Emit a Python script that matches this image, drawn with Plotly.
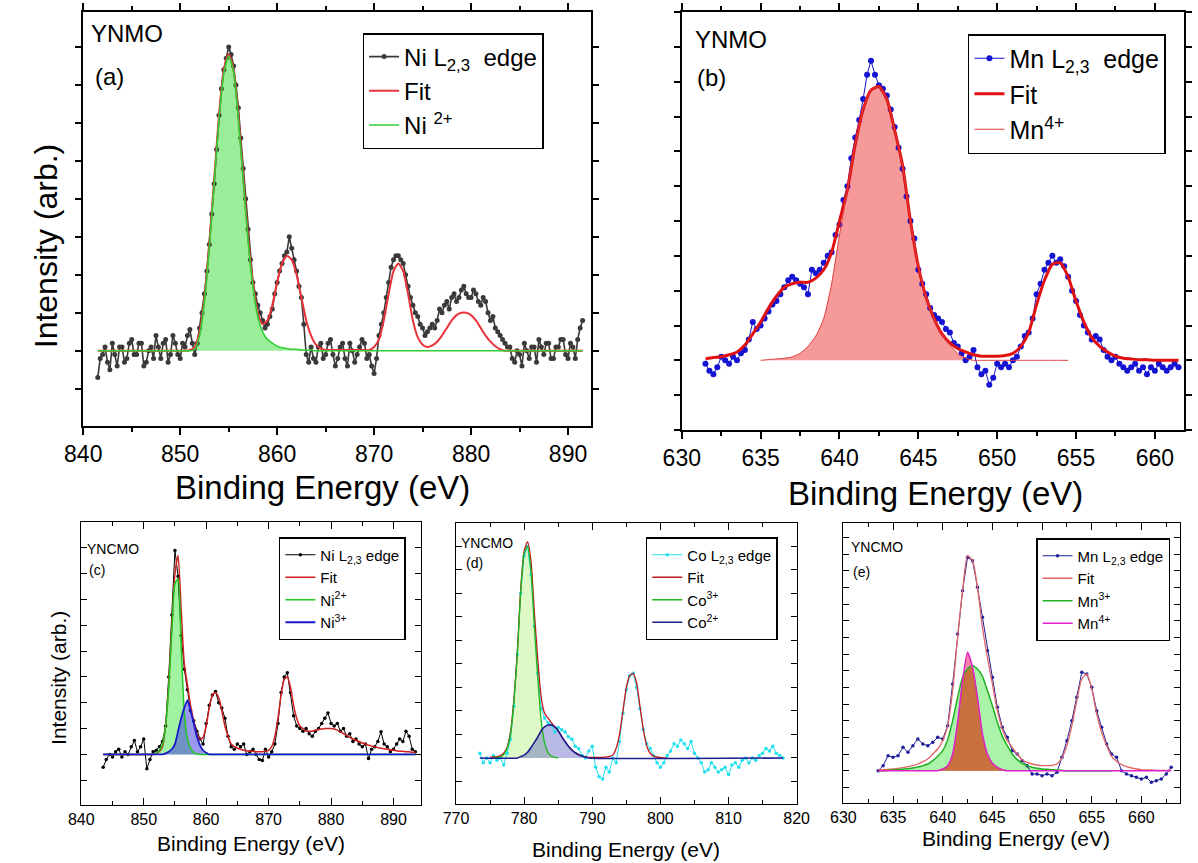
import numpy as np
import plotly.graph_objects as go

FONT = "Arial, 'Liberation Sans', sans-serif"
W, H = 1198, 863

# ---------------- Panel (a): YNMO, Ni L2,3 edge ----------------
A_BE = [841.50, 841.75, 842.00, 842.25, 842.50, 842.75, 843.00, 843.25, 843.50, 843.75,
        844.00, 844.25, 844.50, 844.75, 845.00, 845.25, 845.50, 845.75, 846.00, 846.25,
        846.50, 846.75, 847.00, 847.25, 847.50, 847.75, 848.00, 848.25, 848.50, 848.75,
        849.00, 849.25, 849.50, 849.75, 850.00, 850.25, 850.50, 850.75, 851.00, 851.25,
        851.50, 851.75, 852.00, 852.25, 852.50, 852.75, 853.00, 853.25, 853.50, 853.75,
        854.00, 854.25, 854.50, 854.75, 855.00, 855.25, 855.50, 855.75, 856.00, 856.25,
        856.50, 856.75, 857.00, 857.25, 857.50, 857.75, 858.00, 858.25, 858.50, 858.75,
        859.00, 859.25, 859.50, 859.75, 860.00, 860.25, 860.50, 860.75, 861.00, 861.25,
        861.50, 861.75, 862.00, 862.25, 862.50, 862.75, 863.00, 863.25, 863.50, 863.75,
        864.00, 864.25, 864.50, 864.75, 865.00, 865.25, 865.50, 865.75, 866.00, 866.25,
        866.50, 866.75, 867.00, 867.25, 867.50, 867.75, 868.00, 868.25, 868.50, 868.75,
        869.00, 869.25, 869.50, 869.75, 870.00, 870.25, 870.50, 870.75, 871.00, 871.25,
        871.50, 871.75, 872.00, 872.25, 872.50, 872.75, 873.00, 873.25, 873.50, 873.75,
        874.00, 874.25, 874.50, 874.75, 875.00, 875.25, 875.50, 875.75, 876.00, 876.25,
        876.50, 876.75, 877.00, 877.25, 877.50, 877.75, 878.00, 878.25, 878.50, 878.75,
        879.00, 879.25, 879.50, 879.75, 880.00, 880.25, 880.50, 880.75, 881.00, 881.25,
        881.50, 881.75, 882.00, 882.25, 882.50, 882.75, 883.00, 883.25, 883.50, 883.75,
        884.00, 884.25, 884.50, 884.75, 885.00, 885.25, 885.50, 885.75, 886.00, 886.25,
        886.50, 886.75, 887.00, 887.25, 887.50, 887.75, 888.00, 888.25, 888.50, 888.75,
        889.00, 889.25, 889.50, 889.75, 890.00, 890.25, 890.50, 890.75, 891.00, 891.25,
        891.50]
A_DATA = [-0.35, -0.10, -0.05, 0.05, -0.15, -0.25, 0.10, -0.05, -0.20, 0.05,
          0.05, -0.15, -0.10, 0.10, 0.15, -0.05, -0.05, 0.10, 0.10, -0.20,
          -0.15, 0.00, 0.05, -0.10, 0.20, 0.05, -0.10, 0.10, 0.15, -0.15,
          -0.05, 0.20, 0.10, -0.05, -0.10, 0.10, 0.05, 0.20, 0.28, 0.10,
          -0.05, 0.10, 0.30, 0.50, 0.75, 1.05, 1.40, 1.80, 2.20, 2.65,
          3.10, 3.45, 3.70, 3.85, 4.00, 3.90, 3.75, 3.50, 3.20, 2.80,
          2.40, 2.00, 1.60, 1.20, 0.90, 0.75, 0.60, 0.50, 0.40, 0.30,
          0.35, 0.45, 0.55, 0.75, 0.90, 1.05, 1.15, 1.25, 1.30, 1.50,
          1.35, 1.20, 1.05, 0.85, 0.70, 0.35, -0.05, -0.15, 0.05, -0.10,
          -0.15, 0.05, 0.10, -0.10, -0.05, 0.10, 0.15, -0.05, -0.20, -0.10,
          0.05, 0.10, -0.10, -0.20, 0.10, 0.00, -0.15, -0.05, 0.05, 0.15,
          0.10, -0.10, -0.05, -0.20, -0.30, -0.10, 0.20, 0.35, 0.50, 0.70,
          0.90, 1.10, 1.20, 1.25, 1.25, 1.20, 1.15, 1.00, 0.85, 0.70,
          0.60, 0.50, 0.45, 0.35, 0.30, 0.20, 0.25, 0.30, 0.35, 0.30,
          0.40, 0.55, 0.50, 0.60, 0.65, 0.55, 0.70, 0.75, 0.65, 0.70,
          0.80, 0.85, 0.75, 0.70, 0.70, 0.80, 0.75, 0.65, 0.60, 0.70,
          0.65, 0.50, 0.40, 0.45, 0.30, 0.25, 0.20, 0.15, 0.10, 0.05,
          0.05, -0.10, -0.15, 0.00, -0.05, -0.20, 0.10, 0.00, -0.10, 0.05,
          0.05, -0.15, 0.15, 0.05, -0.05, 0.10, 0.10, -0.10, -0.10, 0.05,
          0.05, 0.15, 0.15, -0.05, -0.10, 0.10, 0.05, -0.10, 0.15, 0.30,
          0.40]
A_FIT_BE = [841.5, 842.0, 842.5, 843.0, 843.5, 844.0, 844.5, 845.0, 845.5, 846.0,
            846.5, 847.0, 847.5, 848.0, 848.5, 849.0, 849.5, 850.0, 850.5, 851.0,
            851.5, 852.0, 852.5, 853.0, 853.5, 854.0, 854.5, 855.0, 855.5, 856.0,
            856.5, 857.0, 857.5, 858.0, 858.5, 859.0, 859.5, 860.0, 860.5, 861.0,
            861.5, 862.0, 862.5, 863.0, 863.5, 864.0, 864.5, 865.0, 865.5, 866.0,
            866.5, 867.0, 867.5, 868.0, 868.5, 869.0, 869.5, 870.0, 870.5, 871.0,
            871.5, 872.0, 872.5, 873.0, 873.5, 874.0, 874.5, 875.0, 875.5, 876.0,
            876.5, 877.0, 877.5, 878.0, 878.5, 879.0, 879.5, 880.0, 880.5, 881.0,
            881.5, 882.0, 882.5, 883.0, 883.5, 884.0, 884.5, 885.0, 885.5, 886.0,
            886.5, 887.0, 887.5, 888.0, 888.5, 889.0, 889.5, 890.0, 890.5, 891.0,
            891.5]
A_FIT = [0.00, 0.00, 0.00, 0.00, 0.00, 0.00, 0.00, 0.00, 0.00, 0.00,
         0.00, 0.00, 0.00, 0.00, 0.00, 0.00, 0.00, 0.00, 0.00, 0.01,
         0.05, 0.25, 0.70, 1.40, 2.25, 3.10, 3.70, 3.90, 3.70, 3.10,
         2.30, 1.50, 0.90, 0.50, 0.35, 0.40, 0.60, 0.90, 1.15, 1.25,
         1.20, 1.00, 0.70, 0.40, 0.20, 0.08, 0.03, 0.01, 0.01, 0.01,
         0.01, 0.01, 0.01, 0.01, 0.01, 0.01, 0.01, 0.05, 0.15, 0.40,
         0.75, 1.05, 1.15, 1.05, 0.75, 0.40, 0.18, 0.08, 0.05, 0.07,
         0.12, 0.20, 0.30, 0.40, 0.47, 0.50, 0.50, 0.47, 0.40, 0.30,
         0.20, 0.12, 0.06, 0.02, 0.00, 0.00, 0.00, 0.00, 0.00, 0.00,
         0.00, 0.00, 0.00, 0.00, 0.00, 0.00, 0.00, 0.00, 0.00, 0.00,
         0.00]
A_NI2 = [0.00, 0.00, 0.00, 0.00, 0.00, 0.00, 0.00, 0.00, 0.00, 0.00,
         0.00, 0.00, 0.00, 0.00, 0.00, 0.00, 0.00, 0.00, 0.00, 0.00,
         0.02, 0.20, 0.65, 1.35, 2.20, 3.05, 3.65, 3.88, 3.68, 3.05,
         2.25, 1.45, 0.85, 0.45, 0.25, 0.15, 0.10, 0.06, 0.04, 0.03,
         0.02, 0.02, 0.01, 0.01, 0.01, 0.00, 0.00, 0.00, 0.00, 0.00,
         0.00, 0.00, 0.00, 0.00, 0.00, 0.00, 0.00, 0.00, 0.00, 0.00,
         0.00, 0.00, 0.00, 0.00, 0.00, 0.00, 0.00, 0.00, 0.00, 0.00,
         0.00, 0.00, 0.00, 0.00, 0.00, 0.00, 0.00, 0.00, 0.00, 0.00,
         0.00, 0.00, 0.00, 0.00, 0.00, 0.00, 0.00, 0.00, 0.00, 0.00,
         0.00, 0.00, 0.00, 0.00, 0.00, 0.00, 0.00, 0.00, 0.00, 0.00,
         0.00]

# ---------------- Panel (b): YNMO, Mn L2,3 edge ----------------
B_BE = [631.50, 631.75, 632.00, 632.25, 632.50, 632.75, 633.00, 633.25,
        633.50, 633.75, 634.00, 634.25, 634.50, 634.75, 635.00, 635.25,
        635.50, 635.75, 636.00, 636.25, 636.50, 636.75, 637.00, 637.25,
        637.50, 637.75, 638.00, 638.25, 638.50, 638.75, 639.00, 639.25,
        639.50, 639.75, 640.00, 640.25, 640.50, 640.75, 641.00, 641.25,
        641.50, 641.75, 642.00, 642.25, 642.50, 642.75, 643.00, 643.25,
        643.50, 643.75, 644.00, 644.25, 644.50, 644.75, 645.00, 645.25,
        645.50, 645.75, 646.00, 646.25, 646.50, 646.75, 647.00, 647.25,
        647.50, 647.75, 648.00, 648.25, 648.50, 648.75, 649.00, 649.25,
        649.50, 649.75, 650.00, 650.25, 650.50, 650.75, 651.00, 651.25,
        651.50, 651.75, 652.00, 652.25, 652.50, 652.75, 653.00, 653.25,
        653.50, 653.75, 654.00, 654.25, 654.50, 654.75, 655.00, 655.25,
        655.50, 655.75, 656.00, 656.25, 656.50, 656.75, 657.00, 657.25,
        657.50, 657.75, 658.00, 658.25, 658.50, 658.75, 659.00, 659.25,
        659.50, 659.75, 660.00, 660.25, 660.50, 660.75, 661.00, 661.25,
        661.50]
B_DATA = [-0.05, -0.15, -0.20, -0.10, 0.05, 0.00, -0.05, 0.05,
          0.00, 0.10, 0.15, 0.30, 0.55, 0.45, 0.50, 0.60,
          0.70, 0.80, 0.85, 0.95, 1.05, 1.15, 1.20, 1.15,
          1.10, 1.05, 0.95, 1.30, 1.25, 1.30, 1.40, 1.50,
          1.55, 1.80, 1.95, 2.30, 2.50, 2.90, 3.20, 3.45,
          3.75, 4.10, 4.30, 4.10, 3.95, 3.90, 3.80, 3.60,
          3.35, 3.05, 2.75, 2.35, 2.00, 1.75, 1.30, 1.10,
          0.95, 0.75, 0.65, 0.60, 0.55, 0.45, 0.40, 0.25,
          0.20, 0.10, 0.00, 0.05, 0.15, -0.10, -0.20, -0.15,
          -0.35, -0.25, -0.05, -0.10, -0.05, -0.10, 0.00, 0.05,
          0.20, 0.35, 0.40, 0.60, 0.95, 1.10, 1.30, 1.40,
          1.50, 1.40, 1.45, 1.35, 1.20, 1.00, 0.85, 0.65,
          0.50, 0.40, 0.30, 0.35, 0.30, 0.15, 0.05, 0.00,
          0.05, -0.05, -0.10, -0.15, -0.10, -0.05, -0.15, -0.10,
          -0.20, -0.10, -0.15, -0.05, -0.10, -0.15, -0.10, -0.05,
          -0.10]
B_FIT_BE = [631.5, 632.0, 632.5, 633.0, 633.5, 634.0, 634.5, 635.0, 635.5, 636.0,
            636.5, 637.0, 637.5, 638.0, 638.5, 639.0, 639.5, 640.0, 640.5, 641.0,
            641.5, 642.0, 642.5, 643.0, 643.5, 644.0, 644.5, 645.0, 645.5, 646.0,
            646.5, 647.0, 647.5, 648.0, 648.5, 649.0, 649.5, 650.0, 650.5, 651.0,
            651.5, 652.0, 652.5, 653.0, 653.5, 654.0, 654.5, 655.0, 655.5, 656.0,
            656.5, 657.0, 657.5, 658.0, 658.5, 659.0, 659.5, 660.0, 660.5, 661.0,
            661.5]
B_FIT = [0.02, 0.04, 0.05, 0.08, 0.12, 0.22, 0.38, 0.55, 0.75, 0.92,
         1.05, 1.10, 1.12, 1.12, 1.18, 1.30, 1.55, 2.00, 2.45, 3.10,
         3.60, 3.88, 3.93, 3.75, 3.30, 2.80, 2.00, 1.35, 0.90, 0.60,
         0.38, 0.25, 0.17, 0.12, 0.08, 0.06, 0.06, 0.06, 0.07, 0.10,
         0.20, 0.40, 0.80, 1.15, 1.38, 1.40, 1.20, 0.85, 0.55, 0.33,
         0.20, 0.12, 0.06, 0.03, 0.02, 0.01, 0.01, 0.00, 0.00, 0.00,
         0.00]
B_MN4_BE = [635.0, 635.5, 636.0, 636.5, 637.0, 637.5, 638.0, 638.5, 639.0, 639.5,
            640.0, 640.5, 641.0, 641.5, 642.0, 642.5, 643.0, 643.5, 644.0, 644.5,
            645.0, 645.5, 646.0, 646.5, 647.0, 647.5, 648.0, 648.5, 649.0, 649.5,
            650.0, 650.5, 651.0, 651.5, 652.0, 652.5, 653.0, 653.5, 654.0, 654.5]
B_MN4 = [0.00, 0.01, 0.02, 0.03, 0.05, 0.10, 0.20, 0.35, 0.60, 1.10,
         1.80, 2.45, 3.10, 3.60, 3.88, 3.93, 3.75, 3.30, 2.80, 2.00,
         1.35, 0.90, 0.60, 0.38, 0.22, 0.10, 0.03, 0.00, 0.00, 0.00,
         0.00, 0.00, 0.00, 0.00, 0.00, 0.00, 0.00, 0.00, 0.00, 0.00]

# ---------------- Panel (c): YNCMO, Ni L2,3 edge ----------------
C_BE = [843.5, 844.0, 844.5, 845.0, 845.5, 846.0, 846.5, 847.0, 847.5, 848.0,
        848.5, 849.0, 849.5, 850.0, 850.5, 851.0, 851.5, 852.0, 852.5, 853.0,
        853.5, 854.0, 854.5, 855.0, 855.5, 856.0, 856.5, 857.0, 857.5, 858.0,
        858.5, 859.0, 859.5, 860.0, 860.5, 861.0, 861.5, 862.0, 862.5, 863.0,
        863.5, 864.0, 864.5, 865.0, 865.5, 866.0, 866.5, 867.0, 867.5, 868.0,
        868.5, 869.0, 869.5, 870.0, 870.5, 871.0, 871.5, 872.0, 872.5, 873.0,
        873.5, 874.0, 874.5, 875.0, 875.5, 876.0, 876.5, 877.0, 877.5, 878.0,
        878.5, 879.0, 879.5, 880.0, 880.5, 881.0, 881.5, 882.0, 882.5, 883.0,
        883.5, 884.0, 884.5, 885.0, 885.5, 886.0, 886.5, 887.0, 887.5, 888.0,
        888.5, 889.0, 889.5, 890.0, 890.5, 891.0, 891.5, 892.0, 892.5, 893.0,
        893.5]
C_DATA = [-0.25, -0.10, 0.00, -0.05, 0.05, 0.10, -0.05, 0.05, 0.00, 0.15,
          0.27, 0.05, 0.15, 0.30, -0.28, -0.10, 0.05, 0.08, 0.15, 0.25,
          0.55, 1.50, 2.70, 3.95, 3.45, 2.30, 1.65, 1.25, 0.85, 0.65,
          0.45, 0.30, 0.20, 0.60, 0.95, 1.15, 1.22, 1.00, 0.90, 0.70,
          0.35, 0.15, 0.10, 0.20, 0.15, 0.20, 0.00, 0.05, 0.10, 0.00,
          -0.10, -0.12, 0.10, -0.05, 0.05, 0.20, 0.60, 1.20, 1.50, 1.58,
          1.20, 0.75, 0.55, 0.50, 0.45, 0.50, 0.40, 0.35, 0.45, 0.50,
          0.60, 0.70, 0.80, 0.60, 0.55, 0.60, 0.45, 0.50, 0.35, 0.40,
          0.25, 0.30, 0.20, 0.15, 0.20, -0.08, 0.10, 0.15, 0.25, 0.44,
          0.20, 0.15, 0.05, 0.10, 0.20, 0.30, 0.25, 0.45, 0.35, 0.10,
          0.05]
C_FIT = [0.00, 0.00, 0.00, 0.00, 0.00, 0.00, 0.00, 0.00, 0.00, 0.00,
         0.00, 0.00, 0.00, 0.00, 0.00, 0.00, 0.00, 0.02, 0.06, 0.15,
         0.55, 1.35, 2.50, 3.50, 3.85, 2.80, 1.75, 1.35, 0.95, 0.65,
         0.40, 0.30, 0.33, 0.55, 0.90, 1.15, 1.20, 1.10, 0.85, 0.55,
         0.35, 0.20, 0.15, 0.12, 0.10, 0.08, 0.07, 0.06, 0.06, 0.05,
         0.05, 0.05, 0.06, 0.08, 0.15, 0.35, 0.70, 1.15, 1.45, 1.50,
         1.30, 0.95, 0.70, 0.55, 0.50, 0.45, 0.45, 0.45, 0.47, 0.48,
         0.49, 0.50, 0.50, 0.50, 0.49, 0.47, 0.44, 0.40, 0.37, 0.33,
         0.30, 0.27, 0.25, 0.22, 0.20, 0.18, 0.16, 0.15, 0.13, 0.12,
         0.11, 0.10, 0.09, 0.08, 0.07, 0.06, 0.06, 0.05, 0.05, 0.04,
         0.04]
C_NI2 = [0.00, 0.00, 0.00, 0.00, 0.00, 0.00, 0.00, 0.00, 0.00, 0.00,
         0.00, 0.00, 0.00, 0.00, 0.00, 0.00, 0.00, 0.03, 0.08, 0.20,
         0.55, 1.30, 2.40, 3.30, 3.40, 2.10, 0.80, 0.30, 0.12, 0.04,
         0.01, 0.00, 0.00, 0.00, 0.00, 0.00, 0.00, 0.00, 0.00, 0.00,
         0.00, 0.00, 0.00, 0.00, 0.00, 0.00, 0.00, 0.00, 0.00, 0.00,
         0.00, 0.00, 0.00, 0.00, 0.00, 0.00, 0.00, 0.00, 0.00, 0.00,
         0.00, 0.00, 0.00, 0.00, 0.00, 0.00, 0.00, 0.00, 0.00, 0.00,
         0.00, 0.00, 0.00, 0.00, 0.00, 0.00, 0.00, 0.00, 0.00, 0.00,
         0.00, 0.00, 0.00, 0.00, 0.00, 0.00, 0.00, 0.00, 0.00, 0.00,
         0.00, 0.00, 0.00, 0.00, 0.00, 0.00, 0.00, 0.00, 0.00, 0.00,
         0.00]
C_NI3 = [0.00, 0.00, 0.00, 0.00, 0.00, 0.00, 0.00, 0.00, 0.00, 0.00,
         0.00, 0.00, 0.00, 0.00, 0.00, 0.00, 0.00, 0.00, 0.00, 0.00,
         0.02, 0.05, 0.10, 0.20, 0.45, 0.70, 0.90, 1.05, 0.85, 0.60,
         0.35, 0.18, 0.08, 0.03, 0.00, 0.00, 0.00, 0.00, 0.00, 0.00,
         0.00, 0.00, 0.00, 0.00, 0.00, 0.00, 0.00, 0.00, 0.00, 0.00,
         0.00, 0.00, 0.00, 0.00, 0.00, 0.00, 0.00, 0.00, 0.00, 0.00,
         0.00, 0.00, 0.00, 0.00, 0.00, 0.00, 0.00, 0.00, 0.00, 0.00,
         0.00, 0.00, 0.00, 0.00, 0.00, 0.00, 0.00, 0.00, 0.00, 0.00,
         0.00, 0.00, 0.00, 0.00, 0.00, 0.00, 0.00, 0.00, 0.00, 0.00,
         0.00, 0.00, 0.00, 0.00, 0.00, 0.00, 0.00, 0.00, 0.00, 0.00,
         0.00]

# ---------------- Panel (d): YNCMO, Co L2,3 edge ----------------
D_BE = [773.5, 774.0, 774.5, 775.0, 775.5, 776.0, 776.5, 777.0, 777.5, 778.0,
        778.5, 779.0, 779.5, 780.0, 780.5, 781.0, 781.5, 782.0, 782.5, 783.0,
        783.5, 784.0, 784.5, 785.0, 785.5, 786.0, 786.5, 787.0, 787.5, 788.0,
        788.5, 789.0, 789.5, 790.0, 790.5, 791.0, 791.5, 792.0, 792.5, 793.0,
        793.5, 794.0, 794.5, 795.0, 795.5, 796.0, 796.5, 797.0, 797.5, 798.0,
        798.5, 799.0, 799.5, 800.0, 800.5, 801.0, 801.5, 802.0, 802.5, 803.0,
        803.5, 804.0, 804.5, 805.0, 805.5, 806.0, 806.5, 807.0, 807.5, 808.0,
        808.5, 809.0, 809.5, 810.0, 810.5, 811.0, 811.5, 812.0, 812.5, 813.0,
        813.5, 814.0, 814.5, 815.0, 815.5, 816.0, 816.5, 817.0, 817.5, 818.0]
D_DATA = [0.10, -0.10, 0.00, -0.10, 0.05, -0.05, 0.00, -0.15, 0.10, 0.40,
          1.10, 2.20, 3.50, 4.30, 4.50, 3.90, 2.80, 1.80, 1.05, 0.85,
          0.75, 0.70, 0.55, 0.65, 0.60, 0.55, 0.45, 0.40, 0.25, 0.20,
          0.05, 0.00, 0.15, 0.25, -0.20, -0.40, -0.45, -0.20, -0.30, 0.00,
          -0.10, 0.35, 0.95, 1.45, 1.75, 1.80, 1.50, 1.05, 0.60, 0.30,
          0.20, 0.05, -0.10, -0.20, -0.10, 0.05, 0.15, 0.30, 0.25, 0.38,
          0.30, 0.20, 0.35, 0.10, 0.00, -0.10, -0.30, -0.25, -0.10, -0.20,
          -0.30, -0.25, -0.20, -0.35, -0.15, -0.10, -0.20, -0.05, 0.00, -0.10,
          0.00, -0.05, 0.05, 0.10, 0.20, 0.15, 0.25, 0.10, 0.05, 0.00]
D_FIT_BE = [775.0, 775.5, 776.0, 776.5, 777.0, 777.5, 778.0, 778.5, 779.0, 779.5,
            780.0, 780.5, 781.0, 781.5, 782.0, 782.5, 783.0, 783.5, 784.0, 784.5,
            785.0, 785.5, 786.0, 786.5, 787.0, 787.5, 788.0, 788.5, 789.0, 789.5,
            790.0, 790.5, 791.0, 791.5, 792.0, 792.5, 793.0, 793.5, 794.0, 794.5,
            795.0, 795.5, 796.0, 796.5, 797.0, 797.5, 798.0, 798.5, 799.0, 799.5,
            800.0, 800.5, 801.0]
D_FIT = [0.01, 0.02, 0.03, 0.05, 0.10, 0.23, 0.55, 1.25, 2.25, 3.60,
         4.40, 4.60, 4.20, 3.10, 2.10, 1.30, 0.95, 0.85, 0.75, 0.66,
         0.58, 0.46, 0.35, 0.25, 0.17, 0.11, 0.07, 0.04, 0.02, 0.01,
         0.01, 0.01, 0.01, 0.01, 0.02, 0.03, 0.06, 0.20, 0.50, 1.00,
         1.50, 1.75, 1.80, 1.60, 1.10, 0.60, 0.25, 0.10, 0.04, 0.02,
         0.01, 0.00, 0.00]
D_CO3_BE = [775.5, 776.0, 776.5, 777.0, 777.5, 778.0, 778.5, 779.0, 779.5, 780.0,
            780.5, 781.0, 781.5, 782.0, 782.5, 783.0, 783.5, 784.0, 784.5, 785.0]
D_CO3 = [0.00, 0.01, 0.02, 0.07, 0.20, 0.50, 1.20, 2.20, 3.55, 4.35,
         4.50, 4.00, 2.80, 1.70, 0.80, 0.32, 0.12, 0.04, 0.01, 0.00]
D_CO2_BE = [773.5, 779.0, 779.5, 780.0, 780.5, 781.0, 781.5, 782.0, 782.5, 783.0,
            783.5, 784.0, 784.5, 785.0, 785.5, 786.0, 786.5, 787.0, 787.5, 788.0,
            788.5, 789.0, 789.5, 818.0]
D_CO2 = [0.00, 0.00, 0.03, 0.06, 0.12, 0.22, 0.33, 0.45, 0.58, 0.66,
         0.70, 0.70, 0.66, 0.58, 0.46, 0.35, 0.25, 0.17, 0.11, 0.07,
         0.04, 0.02, 0.00, 0.00]

# ---------------- Panel (e): YNCMO, Mn L2,3 edge ----------------
E_BE = [633.5, 634.0, 634.5, 635.0, 635.5, 636.0, 636.5, 637.0, 637.5, 638.0,
        638.5, 639.0, 639.5, 640.0, 640.5, 641.0, 641.5, 642.0, 642.5, 643.0,
        643.5, 644.0, 644.5, 645.0, 645.5, 646.0, 646.5, 647.0, 647.5, 648.0,
        648.5, 649.0, 649.5, 650.0, 650.5, 651.0, 651.5, 652.0, 652.5, 653.0,
        653.5, 654.0, 654.5, 655.0, 655.5, 656.0, 656.5, 657.0, 657.5, 658.0,
        658.5, 659.0, 659.5, 660.0, 660.5, 661.0, 661.5, 662.0, 662.5, 663.0]
E_DATA = [0.00, 0.15, 0.45, 0.40, 0.45, 0.70, 0.55, 0.75, 0.95, 0.80,
          0.75, 0.85, 1.00, 0.95, 1.35, 2.60, 4.10, 5.40, 6.40, 6.30,
          5.50, 4.60, 3.60, 2.80, 1.90, 1.30, 1.00, 0.60, 0.50, 0.30,
          0.15, -0.10, -0.10, -0.15, -0.10, -0.15, -0.05, 0.40, 0.90, 1.50,
          2.20, 2.95, 2.90, 2.50, 1.80, 1.30, 0.80, 0.50, 0.40, 0.00,
          -0.10, -0.15, -0.20, -0.25, -0.20, -0.35, -0.30, -0.25, -0.10, 0.10]
E_FIT = [0.02, 0.03, 0.04, 0.05, 0.07, 0.09, 0.12, 0.15, 0.20, 0.27,
         0.35, 0.50, 0.65, 0.90, 1.35, 2.40, 4.00, 5.40, 6.45, 6.30,
         5.50, 4.30, 3.40, 2.60, 1.80, 1.25, 0.90, 0.70, 0.50, 0.33,
         0.25, 0.20, 0.17, 0.15, 0.15, 0.16, 0.20, 0.38, 0.75, 1.35,
         2.10, 2.75, 2.90, 2.45, 1.70, 1.15, 0.75, 0.43, 0.28, 0.18,
         0.12, 0.08, 0.05, 0.03, 0.02, 0.02, 0.01, 0.01, 0.01, 0.01]
E_MN3_BE = [633.5, 634.0, 634.5, 635.0, 635.5, 636.0, 636.5, 637.0, 637.5, 638.0,
            638.5, 639.0, 639.5, 640.0, 640.5, 641.0, 641.5, 642.0, 642.5, 643.0,
            643.5, 644.0, 644.5, 645.0, 645.5, 646.0, 646.5, 647.0, 647.5, 648.0,
            648.5, 649.0, 649.5, 650.0, 650.5, 651.0, 651.5, 652.0, 652.5, 653.0,
            653.5, 654.0, 654.5, 655.0, 655.5, 656.0, 656.5, 657.0]
E_MN3 = [0.00, 0.00, 0.01, 0.02, 0.03, 0.04, 0.06, 0.08, 0.11, 0.15,
         0.20, 0.30, 0.43, 0.60, 0.93, 1.50, 2.20, 2.80, 3.05, 3.15,
         3.05, 2.83, 2.40, 1.95, 1.45, 1.03, 0.75, 0.50, 0.33, 0.22,
         0.15, 0.10, 0.07, 0.05, 0.04, 0.03, 0.02, 0.01, 0.00, 0.00,
         0.00, 0.00, 0.00, 0.00, 0.00, 0.00, 0.00, 0.00]
E_MN4 = [0.00, 0.00, 0.00, 0.00, 0.00, 0.00, 0.00, 0.00, 0.00, 0.00,
         0.00, 0.00, 0.00, 0.05, 0.15, 0.50, 1.45, 2.70, 3.55, 3.10,
         2.20, 1.10, 0.50, 0.22, 0.10, 0.03, 0.00, 0.00, 0.00, 0.00,
         0.00, 0.00, 0.00, 0.00, 0.00, 0.00, 0.00, 0.00, 0.00, 0.00,
         0.00, 0.00, 0.00, 0.00, 0.00, 0.00, 0.00, 0.00, 0.00, 0.00,
         0.00, 0.00, 0.00, 0.00, 0.00, 0.00, 0.00, 0.00, 0.00, 0.00]

for xs, ys in [(A_BE, A_DATA), (A_FIT_BE, A_FIT), (A_FIT_BE, A_NI2), (B_BE, B_DATA),
               (B_FIT_BE, B_FIT), (B_MN4_BE, B_MN4), (C_BE, C_DATA), (C_BE, C_FIT),
               (C_BE, C_NI2), (C_BE, C_NI3), (D_BE, D_DATA), (D_FIT_BE, D_FIT),
               (D_CO3_BE, D_CO3), (D_CO2_BE, D_CO2), (E_BE, E_DATA), (E_BE, E_FIT),
               (E_MN3_BE, E_MN3), (E_BE, E_MN4)]:
    assert len(xs) == len(ys), (len(xs), len(ys))

# overlap of the two Mn components in (e) (both grids start at 633.5, step 0.5)
E_OVERLAP = np.minimum(np.array(E_MN3), np.array(E_MN4[:len(E_MN3)]))

fig = go.Figure()


def fill_tr(x, y, color, xa, ya):
    fig.add_trace(go.Scatter(x=x, y=y, mode="lines", fill="tozeroy", fillcolor=color,
                             line=dict(width=0, shape="spline", smoothing=0.6),
                             xaxis=xa, yaxis=ya, showlegend=False, hoverinfo="skip"))


def line_tr(x, y, color, width, name, xa, ya, leg):
    fig.add_trace(go.Scatter(x=x, y=y, mode="lines", name=name,
                             line=dict(color=color, width=width, shape="spline", smoothing=0.6),
                             xaxis=xa, yaxis=ya, legend=leg))


def data_tr(x, y, color, lw, ms, name, xa, ya, leg):
    fig.add_trace(go.Scatter(x=x, y=y, mode="lines+markers", name=name,
                             line=dict(color=color, width=lw),
                             marker=dict(color=color, size=ms, symbol="circle"),
                             xaxis=xa, yaxis=ya, legend=leg))


# (a)
fill_tr(A_FIT_BE, A_NI2, "rgba(120,232,120,0.75)", "x", "y")
data_tr(A_BE, A_DATA, "#3a3a3a", 1.6, 5, "Ni L<sub>2,3</sub>  edge", "x", "y", "legend")
line_tr(A_FIT_BE, A_FIT, "#e8333a", 2, "Fit", "x", "y", "legend")
line_tr(A_FIT_BE, A_NI2, "#33cc33", 1.6, "Ni <sup>2+</sup>", "x", "y", "legend")

# (b)
fill_tr(B_MN4_BE, B_MN4, "rgba(242,128,128,0.8)", "x2", "y2")
data_tr(B_BE, B_DATA, "#1414d2", 1, 6, "Mn L<sub>2,3</sub>  edge", "x2", "y2", "legend2")
line_tr(B_FIT_BE, B_FIT, "#e01010", 3, "Fit", "x2", "y2", "legend2")
line_tr(B_MN4_BE, B_MN4, "#e03c3c", 1, "Mn<sup>4+</sup>", "x2", "y2", "legend2")

# (c)
fill_tr(C_BE, C_NI2, "rgba(110,235,110,0.65)", "x3", "y3")
fill_tr(C_BE, C_NI3, "rgba(70,70,225,0.55)", "x3", "y3")
data_tr(C_BE, C_DATA, "#000000", 1, 3.5, "Ni L<sub>2,3</sub> edge", "x3", "y3", "legend3")
line_tr(C_BE, C_FIT, "#d02020", 1.5, "Fit", "x3", "y3", "legend3")
line_tr(C_BE, C_NI2, "#22c822", 1.5, "Ni<sup>2+</sup>", "x3", "y3", "legend3")
line_tr(C_BE, C_NI3, "#1a1acc", 1.8, "Ni<sup>3+</sup>", "x3", "y3", "legend3")

# (d)
fill_tr(D_CO3_BE, D_CO3, "rgba(200,245,160,0.6)", "x4", "y4")
fill_tr(D_CO2_BE, D_CO2, "rgba(80,80,190,0.4)", "x4", "y4")
data_tr(D_BE, D_DATA, "#22e0f0", 1, 3.5, "Co L<sub>2,3</sub> edge", "x4", "y4", "legend4")
line_tr(D_FIT_BE, D_FIT, "#c01818", 1.3, "Fit", "x4", "y4", "legend4")
line_tr(D_CO3_BE, D_CO3, "#1db81d", 1.3, "Co<sup>3+</sup>", "x4", "y4", "legend4")
line_tr(D_CO2_BE, D_CO2, "#1c1c8c", 1.6, "Co<sup>2+</sup>", "x4", "y4", "legend4")

# (e)
fill_tr(E_MN3_BE, E_MN3, "rgba(140,240,140,0.75)", "x5", "y5")
fill_tr(E_BE, E_MN4, "rgba(240,110,150,0.85)", "x5", "y5")
fill_tr(E_MN3_BE, E_OVERLAP, "rgb(200,112,62)", "x5", "y5")
data_tr(E_BE, E_DATA, "#1e1e9a", 1, 3.5, "Mn L<sub>2,3</sub> edge", "x5", "y5", "legend5")
line_tr(E_BE, E_FIT, "#e06666", 1.3, "Fit", "x5", "y5", "legend5")
line_tr(E_MN3_BE, E_MN3, "#22b022", 1.5, "Mn<sup>3+</sup>", "x5", "y5", "legend5")
line_tr(E_BE, E_MN4, "#e020c8", 1.5, "Mn<sup>4+</sup>", "x5", "y5", "legend5")


def px_x(p):
    return p / W


def px_y(p):
    return 1 - p / H


def xaxis(dom, rng, dtick, mdtick, fs, ticks, anchor, lw):
    return dict(domain=[px_x(dom[0]), px_x(dom[1])], range=rng, dtick=dtick, tick0=0,
                ticks=ticks, ticklen=7, tickwidth=lw, tickcolor="black",
                minor=dict(dtick=mdtick, tick0=0, ticks=ticks, ticklen=4, tickwidth=lw, tickcolor="black"),
                showline=True, linecolor="black", linewidth=lw, mirror="ticks",
                showgrid=False, zeroline=False, anchor=anchor,
                tickfont=dict(family=FONT, size=fs, color="black"))


def yaxis(dom, rng, dtick, ticks, anchor, lw):
    return dict(domain=[px_y(dom[1]), px_y(dom[0])], range=rng, dtick=dtick, tick0=0,
                ticks=ticks, ticklen=6, tickwidth=lw, tickcolor="black",
                showticklabels=False, showline=True, linecolor="black", linewidth=lw,
                mirror="ticks", showgrid=False, zeroline=False, anchor=anchor)


def legend(xp, yp, fs):
    return dict(x=px_x(xp), y=px_y(yp), xanchor="left", yanchor="top",
                bordercolor="black", borderwidth=1.5, bgcolor="white",
                font=dict(family=FONT, size=fs, color="black"), tracegroupgap=0)


def ann(text, xp, yp, fs, xanchor="left", angle=0):
    return dict(text=text, x=px_x(xp), y=px_y(yp), xref="paper", yref="paper",
                xanchor=xanchor, yanchor="middle", showarrow=False, textangle=angle,
                font=dict(family=FONT, size=fs, color="black"))


fig.update_layout(
    width=W, height=H, margin=dict(l=0, r=0, t=0, b=0),
    paper_bgcolor="white", plot_bgcolor="white", showlegend=True,
    xaxis=xaxis((66, 588), [840, 892.4], 10, 5, 23, "outside", "y", 1.5),
    yaxis=yaxis((12, 426), [-0.99, 4.46], 0.5, "outside", "x", 1.5),
    xaxis2=xaxis((681, 1197), [630, 661.85], 5, 2.5, 23, "outside", "y2", 1.5),
    yaxis2=yaxis((12, 430), [-1.0, 5.0], 0.5, "outside", "x2", 1.5),
    xaxis3=xaxis((64, 413), [840, 894.4], 10, 5, 16, "inside", "y3", 1.2),
    yaxis3=yaxis((522, 805), [-0.98, 4.5], 0.5, "inside", "x3", 1.2),
    xaxis4=xaxis((449, 799), [770, 820], 10, 5, 16, "inside", "y4", 1.2),
    yaxis4=yaxis((523, 804), [-0.98, 5.0], 0.5, "inside", "x4", 1.2),
    xaxis5=xaxis((847, 1193), [630, 663.9], 5, 2.5, 16, "inside", "y5", 1.2),
    yaxis5=yaxis((523, 803), [-0.97, 7.43], 0.5, "inside", "x5", 1.2),
    legend=legend(353, 33, 24),
    legend2=legend(975, 34, 25),
    legend3=legend(267, 537, 15),
    legend4=legend(644, 537, 15),
    legend5=legend(1045, 538, 15),
    annotations=[
        ann("YNMO", 72, 33, 24), ann("(a)", 76, 76, 24),
        ann("YNMO", 692, 40, 24), ann("(b)", 695, 78, 24),
        ann("YNCMO", 68, 549, 14), ann("(c)", 70, 570, 14),
        ann("YNCMO", 452, 543, 14), ann("(d)", 457, 563, 14),
        ann("YNCMO", 853, 547, 14), ann("(e)", 855, 572, 14),
        ann("Binding Energy (eV)", 312, 487, 33, "center"),
        ann("Intensity (arb.)", 28, 246, 32, "center", -90),
        ann("Binding Energy (eV)", 942, 493, 33, "center"),
        ann("Binding Energy (eV)", 238, 843, 21, "center"),
        ann("Intensity (arb.)", 40, 678, 21, "center", -90),
        ann("Binding Energy (eV)", 624, 849, 21, "center"),
        ann("Binding Energy (eV)", 1024, 838, 21, "center"),
    ],
)

fig.write_html("out.html")
